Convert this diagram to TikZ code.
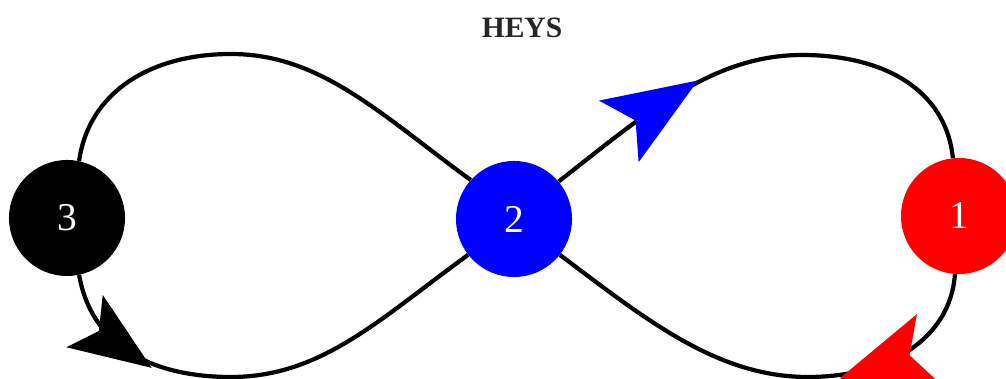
\documentclass[tikz,border=0pt]{standalone}
\usepackage{fontspec}
\setmainfont{Liberation Serif}
\usetikzlibrary{decorations.markings}

\tikzset{
  state/.style={circle, minimum size=2.9cm, inner sep=0pt, text=white,
    font=\fontsize{28}{30}\selectfont},
  loopline/.style={line width=3pt},
  % dart head centred on the curve, pointing along the way of travel
  dart/.style n args={3}{postaction={decorate, decoration={markings,
    mark=at position #1 with {\fill[#2, scale=#3] (0.93cm,0) -- (-1.42cm,0.915cm)
      -- (-0.92cm,0) -- (-1.42cm,-0.915cm) -- cycle;}}}},
}

\begin{document}
\begin{tikzpicture}[x=0.025cm, y=0.025cm]
  \useasboundingbox (0,0) rectangle (1006,379);

  % states
  \node[state, fill=black] (n3) at (67,161) {3};
  \node[state, fill=blue]  (n2) at (514,160) {2};
  \node[state, fill=red]   (n1) at (959,163) {1};
  \node[font=\bfseries\fontsize{21}{24}\selectfont, text=black!85] (title) at (522,351) {HEYS};

  % turning points of the loops
  \coordinate (topL) at (231,325);
  \coordinate (botL) at (231,2);
  \coordinate (topR) at (802,324);
  \coordinate (botR) at (808,2);

  % left loop
  \draw[loopline] (n3.78) .. controls +(82:70) and +(-80,0) .. (topL)
    .. controls +(90,0) and +(144:110) .. (n2.138);
  \draw[loopline, dart={0.19}{black}{0.87}] (n3.-78) .. controls +(-80:75) and +(-75,0) .. (botL)
    .. controls +(90,0) and +(-144:110) .. (n2.-142);

  % right loop
  \draw[loopline, dart={0.28}{blue}{1}] (n2.40) .. controls +(38:110) and +(-90,0) .. (topR)
    .. controls +(80,0) and +(96:70) .. (n1.96);
  \draw[loopline, dart={0.272}{red}{1}] (n1.-94) .. controls +(-94:65) and +(80,0) .. (botR)
    .. controls +(-90,0) and +(-37:110) .. (n2.-38);
\end{tikzpicture}
\end{document}
